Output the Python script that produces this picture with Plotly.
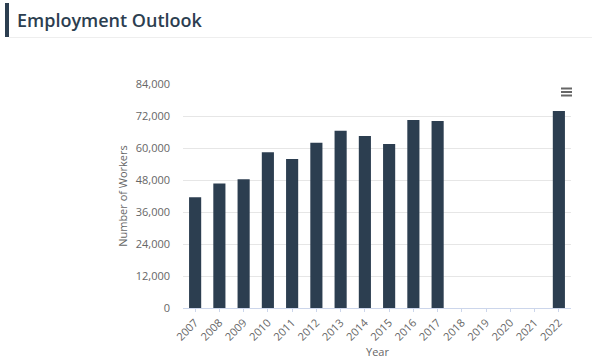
import plotly.graph_objects as go

years = ["2007", "2008", "2009", "2010", "2011", "2012", "2013", "2014",
         "2015", "2016", "2017", "2018", "2019", "2020", "2021", "2022"]
workers = [41500, 46700, 48300, 58400, 55900, 62000, 66500, 64500,
           61500, 70500, 70100, None, None, None, None, 73900]
y_ticks = [0, 12000, 24000, 36000, 48000, 60000, 72000, 84000]

W, H = 606, 363
L, R, T, B = 183, 35, 84, 55

fig = go.Figure(go.Bar(x=years, y=workers, marker_color="#2c3e50",
                       marker_line_width=0, hoverinfo="x+y"))

font_fam = "Open Sans, sans-serif"
fig.update_layout(
    width=W, height=H,
    margin=dict(l=L, r=R, t=T, b=B, autoexpand=False),
    plot_bgcolor="white", paper_bgcolor="white",
    bargap=0.5, showlegend=False,
    font=dict(family=font_fam, color="#666666", size=11),
    xaxis=dict(type="category", tickangle=-45, showgrid=False, automargin=False,
               showline=True, linecolor="#ccd6eb", linewidth=1,
               ticks="outside", ticklen=3, tickcolor="#ccd6eb",
               tickfont=dict(size=11, color="#666666")),
    yaxis=dict(range=[0, 84000], tickvals=y_ticks, tickformat=",d", automargin=False,
               showgrid=True, gridcolor="#e6e6e6", zeroline=False,
               showline=False, ticks="", ticklen=0, ticklabelstandoff=12,
               tickfont=dict(size=11, color="#666666"),
               title=dict(text="Number of Workers", font=dict(size=11, color="#666666"), standoff=5)),
)

def px_x(px):
    return (px - L) / (W - L - R)

def px_y(py):
    return (H - B - py) / (H - T - B)

# X axis title
fig.add_annotation(text="Year", xref="paper", yref="paper",
                   x=0.5, y=px_y(351), xanchor="center", yanchor="middle",
                   showarrow=False, font=dict(family=font_fam, size=11, color="#666666"))

# Header
fig.add_shape(type="rect", xref="paper", yref="paper",
              x0=px_x(5), x1=px_x(9), y0=px_y(37), y1=px_y(3),
              fillcolor="#2c3e50", line_width=0)
fig.add_shape(type="line", xref="paper", yref="paper",
              x0=px_x(9), x1=px_x(592), y0=px_y(37.5), y1=px_y(37.5),
              line=dict(color="#eeeeee", width=1))
fig.add_annotation(text="Employment Outlook", xref="paper", yref="paper",
                   x=px_x(15), y=px_y(20), xanchor="left", yanchor="middle",
                   showarrow=False,
                   font=dict(family=font_fam, size=18, color="#2c3e50", weight=600))

# Menu icon
for py in (88.5, 92, 95.5):
    fig.add_shape(type="line", xref="paper", yref="paper",
                  x0=px_x(561), x1=px_x(572), y0=px_y(py), y1=px_y(py),
                  line=dict(color="#666666", width=2))

fig.write_html("out.html", config={"displayModeBar": False},
               post_script="document.body.style.margin='0';document.body.style.overflow='hidden';")
